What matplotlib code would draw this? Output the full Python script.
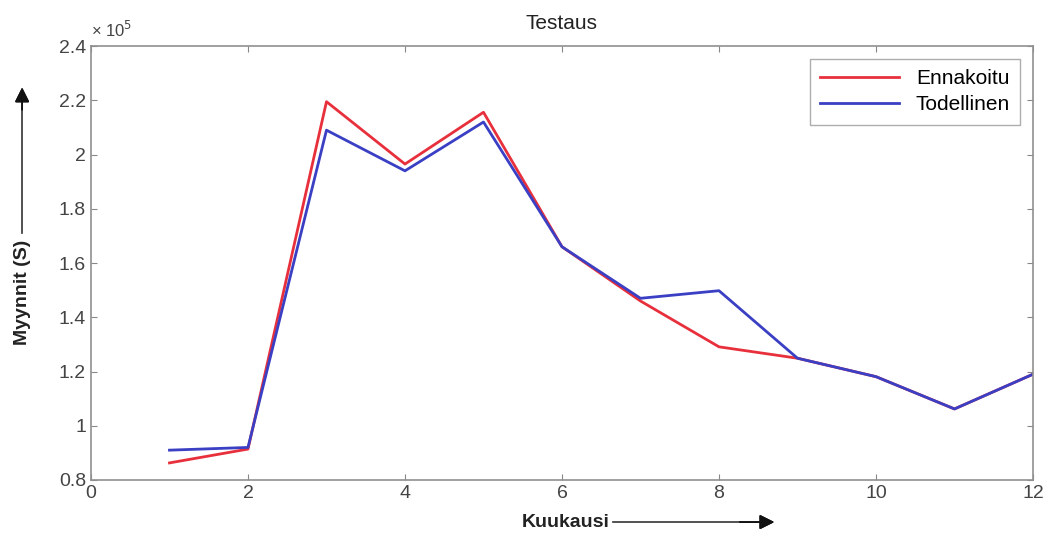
import numpy as np
import matplotlib.pyplot as plt
from matplotlib.ticker import FuncFormatter

plt.rcParams['font.family'] = ['Liberation Sans', 'DejaVu Sans']

kuukausi = [1, 2, 3, 4, 5, 6, 7, 8, 9, 10, 11, 12]
ennakoitu = [86300, 91400, 219500, 196500, 215600, 166000, 146000, 129100, 124900, 118100, 106200, 119000]
todellinen = [91000, 92000, 209000, 194000, 212000, 166000, 147000, 149800, 124900, 118100, 106200, 119000]

xticks = [0, 2, 4, 6, 8, 10, 12]
yticks = [80000, 100000, 120000, 140000, 160000, 180000, 200000, 220000, 240000]

fig = plt.figure(figsize=(10.53, 5.36), dpi=100)
ax = fig.add_axes([0.0864, 0.1045, 0.8946, 0.8095])

ax.plot(kuukausi, ennakoitu, color='#e8303c', lw=2.0, label='Ennakoitu')
ax.plot(kuukausi, todellinen, color='#3a3fc4', lw=2.0, label='Todellinen')

ax.set_xlim(0, 12)
ax.set_ylim(80000, 240000)
ax.set_xticks(xticks)
ax.set_yticks(yticks)
ax.yaxis.set_major_formatter(FuncFormatter(lambda v, p: '%g' % (v / 1e5)))
ax.tick_params(direction='in', top=True, right=True, length=4, width=0.8,
               colors='#888888', labelcolor='#444444', labelsize=14)
for s in ax.spines.values():
    s.set_color('#909090')
    s.set_linewidth(1.2)

ax.text(0.0, 1.015, '× 10$^5$', transform=ax.transAxes, fontsize=12, color='#444444',
        ha='left', va='bottom')
ax.set_title('Testaus', fontsize=15, color='#222222', pad=12)

leg = ax.legend(loc='upper right', fontsize=15, frameon=True, fancybox=False,
                handlelength=3.8, borderaxespad=0.6, borderpad=0.5, labelspacing=0.35)
leg.get_frame().set_edgecolor('#999999')
leg.get_frame().set_linewidth(1.0)

# axis labels with arrows
fig.text(0.537, 0.026, 'Kuukausi', fontsize=14, fontweight='bold', ha='center', va='center',
         color='#222222')
fig.add_artist(plt.Line2D([0.582, 0.72], [0.026, 0.026], transform=fig.transFigure,
                          color='#333333', lw=1.2))
fig.add_artist(plt.annotate('', xy=(0.738, 0.026), xytext=(0.70, 0.026), xycoords='figure fraction',
                            arrowprops=dict(arrowstyle='-|>', color='#111111', lw=1.2,
                                            mutation_scale=22)))

fig.text(0.021, 0.455, 'Myynnit (S)', fontsize=14, fontweight='bold', rotation=90,
         ha='center', va='center', color='#222222')
fig.add_artist(plt.Line2D([0.021, 0.021], [0.565, 0.80], transform=fig.transFigure,
                          color='#333333', lw=1.2))
fig.add_artist(plt.annotate('', xy=(0.021, 0.842), xytext=(0.021, 0.79), xycoords='figure fraction',
                            arrowprops=dict(arrowstyle='-|>', color='#111111', lw=1.2,
                                            mutation_scale=22)))

fig.savefig('out.png', dpi=100)
